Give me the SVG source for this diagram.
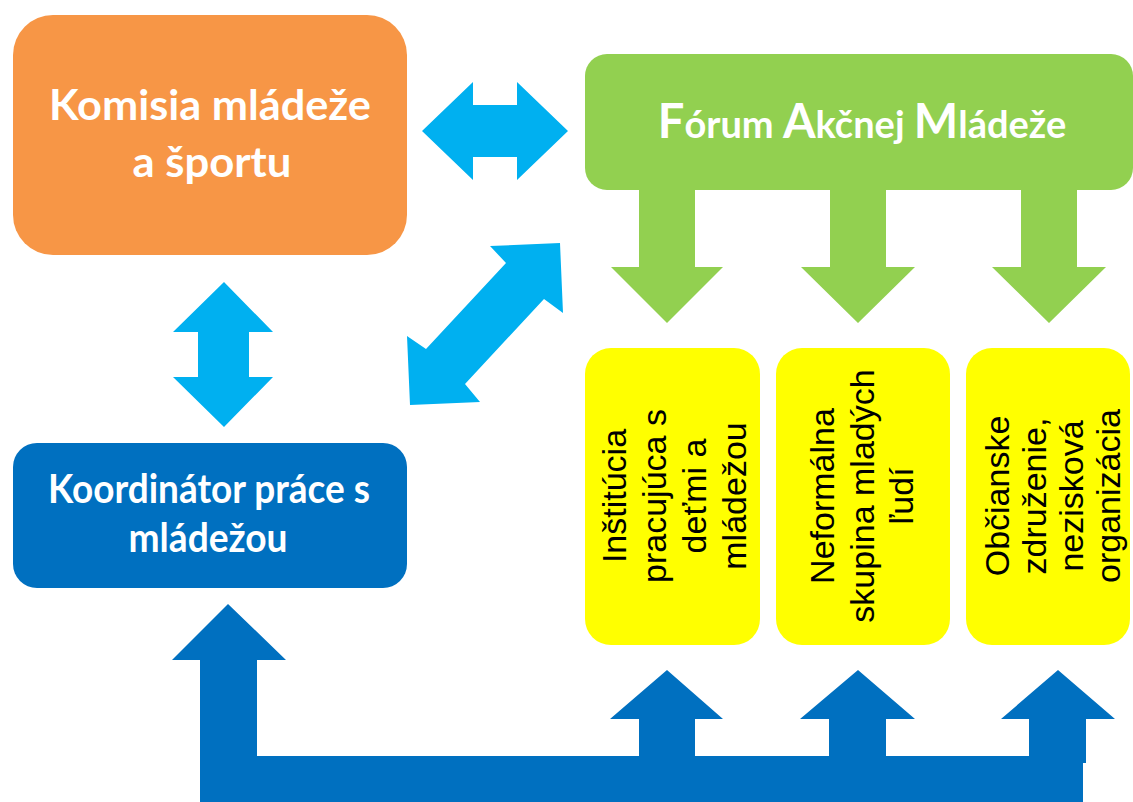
<svg xmlns="http://www.w3.org/2000/svg" width="1133" height="802" viewBox="0 0 1133 802">
<style>
.bold{font-family:Lato,"Open Sans","Liberation Sans",sans-serif;font-weight:700;fill:#FFFFFF;text-anchor:middle}
.ytxt{font-family:"Liberation Sans",Arial,sans-serif;font-size:34px;fill:#000000;text-anchor:middle}
.cyan{fill:#00B0F0}
.green{fill:#92D050}
.dblue{fill:#0070C0}
.ybox{fill:#FFFF00}
</style>
<rect width="1133" height="802" fill="#FFFFFF"/>
<g id="connectors">
<polygon class="cyan" points="422,131 473,82 473,105 517,105 517,82 568,131 517,180 517,157 473,157 473,180"/>
<polygon class="cyan" points="224,282 273,332 249,332 249,377 273,377 224,427 173,377 198,377 198,332 173,332"/>
<polygon class="cyan" points="560,243 563,313 544,299 465,384 480,402 410,405 407,336 426,349 506,263 490,246"/>
<polygon class="green" points="639,185 695,185 695,267 723,267 667,323 611,267 639,267"/>
<polygon class="green" points="830,185 886,185 886,267 915,267 858,323 801,267 830,267"/>
<polygon class="green" points="1021,185 1077,185 1077,267 1106,267 1049,323 992,267 1021,267"/>
<polygon class="dblue" points="228,604 286,660 257,660 257,756 639,756 639,719 610,719 667,670 723,719 695,719 695,756 829,756 829,719 800,719 858,670 915,719 886,719 886,756 1029,756 1029,719 1001,719 1058,670 1115,719 1086,719 1086,763 1083,763 1083,802 200,802 200,660 172,660"/>
</g>
<g id="komisia">
<rect x="13" y="15" width="394" height="240" rx="40" fill="#F79646"/>
<text class="bold" font-size="42"><tspan x="210" y="120" textLength="322" lengthAdjust="spacingAndGlyphs">Komisia mládeže</tspan></text>
<text class="bold" font-size="42"><tspan x="212" y="177" textLength="159" lengthAdjust="spacingAndGlyphs">a športu</tspan></text>
</g>
<g id="forum">
<rect x="585" y="54" width="548" height="136" rx="22" fill="#92D050"/>
<text class="bold" x="862" y="138" font-size="38"><tspan font-size="47">F</tspan>órum <tspan font-size="47">A</tspan>kčnej <tspan font-size="47">M</tspan>ládeže</text>
</g>
<g id="koordinator">
<rect x="13" y="443" width="394" height="145" rx="24" fill="#0070C0"/>
<text class="bold" font-size="41"><tspan x="209" y="503" textLength="322" lengthAdjust="spacingAndGlyphs">Koordinátor práce s</tspan></text>
<text class="bold" font-size="41"><tspan x="208" y="552" textLength="159" lengthAdjust="spacingAndGlyphs">mládežou</tspan></text>
</g>
<g id="institucia">
<rect class="ybox" x="585" y="348" width="175" height="297" rx="26"/>
<text class="ytxt" transform="translate(672,496) rotate(-90)"><tspan x="0" y="-46">Inštitúcia</tspan><tspan x="0" y="-6">pracujúca s</tspan><tspan x="0" y="34">deťmi a</tspan><tspan x="0" y="74">mládežou</tspan></text>
</g>
<g id="neformalna">
<rect class="ybox" x="776" y="348" width="174" height="297" rx="26"/>
<text class="ytxt" transform="translate(863,496) rotate(-90)"><tspan x="0" y="-29">Neformálna</tspan><tspan x="0" y="11">skupina  mladých</tspan><tspan x="0" y="50">ľudí</tspan></text>
</g>
<g id="obcianske">
<rect class="ybox" x="966" y="348" width="164" height="297" rx="26"/>
<text class="ytxt" transform="translate(1048,496) rotate(-90)"><tspan x="0" y="-39">Občianske</tspan><tspan x="0" y="-2">združenie,</tspan><tspan x="0" y="35">nezisková</tspan><tspan x="0" y="72">organizácia</tspan></text>
</g>
</svg>
